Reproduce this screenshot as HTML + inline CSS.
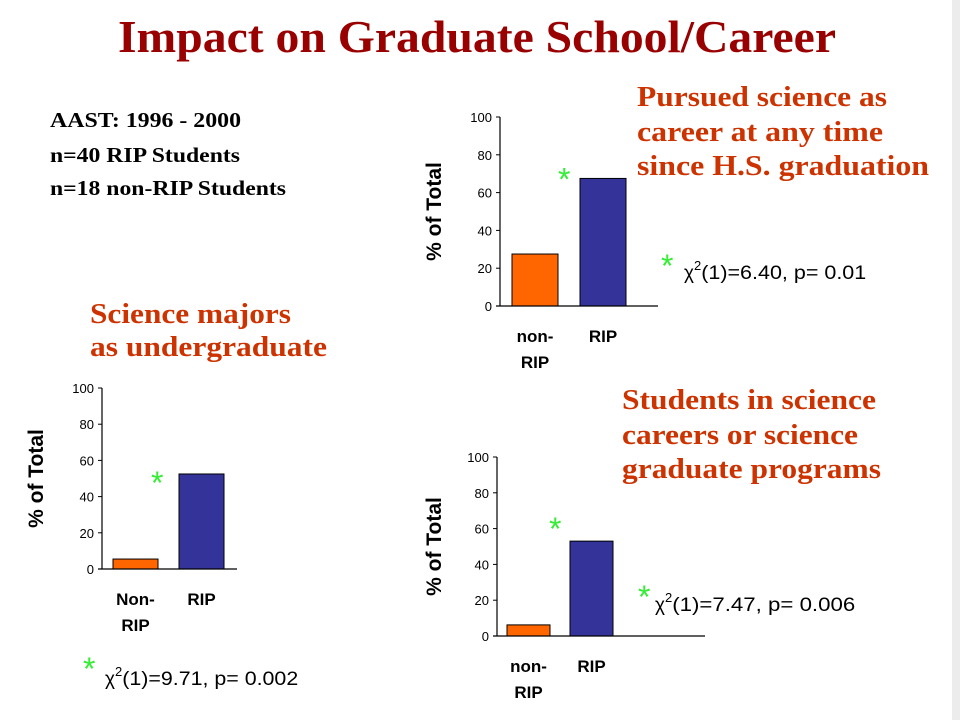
<!DOCTYPE html>
<html><head><meta charset="utf-8">
<style>
html,body{margin:0;padding:0;background:#fff;}
svg{display:block;}
.title{font-family:"Liberation Serif",serif;font-weight:bold;fill:#990000;}
.sub{font-family:"Liberation Serif",serif;font-weight:bold;fill:#cc3300;font-size:28px;}
.info{font-family:"Liberation Serif",serif;font-weight:bold;fill:#000;font-size:21px;}
.tick{font-family:"Liberation Sans",sans-serif;font-size:13px;fill:#000;}
.cat{font-family:"Liberation Sans",sans-serif;font-weight:bold;font-size:17px;fill:#000;}
.ytitle{font-family:"Liberation Sans",sans-serif;font-weight:bold;font-size:21px;fill:#000;}
.stat{font-family:"Liberation Sans",sans-serif;font-size:19px;fill:#000;}
.star{font-family:"Liberation Sans",sans-serif;font-size:32px;fill:#33ee33;}
</style></head>
<body>
<svg id="slide" width="960" height="720" viewBox="0 0 960 720" xmlns="http://www.w3.org/2000/svg">
<rect x="952" y="0" width="8" height="720" fill="#ececec"/>
<text class="title" x="118" y="52" font-size="46" textLength="718" lengthAdjust="spacingAndGlyphs">Impact on Graduate School/Career</text>

<g>
<text class="info" x="50" y="127" textLength="191" lengthAdjust="spacingAndGlyphs">AAST: 1996 - 2000</text>
<text class="info" x="50" y="162" textLength="190" lengthAdjust="spacingAndGlyphs">n=40 RIP Students</text>
<text class="info" x="50" y="195" textLength="236" lengthAdjust="spacingAndGlyphs">n=18 non-RIP Students</text>
</g>

<g>
<text class="sub" x="637" y="106" textLength="250" lengthAdjust="spacingAndGlyphs">Pursued science as</text>
<text class="sub" x="637" y="141" textLength="246" lengthAdjust="spacingAndGlyphs">career at any time</text>
<text class="sub" x="637" y="175" textLength="292" lengthAdjust="spacingAndGlyphs">since H.S. graduation</text>
</g>
<g>
<text class="sub" x="90" y="323" textLength="201" lengthAdjust="spacingAndGlyphs">Science majors</text>
<text class="sub" x="90" y="356" textLength="237" lengthAdjust="spacingAndGlyphs">as undergraduate</text>
</g>
<g>
<text class="sub" x="622" y="409" textLength="254" lengthAdjust="spacingAndGlyphs">Students in science</text>
<text class="sub" x="622" y="444" textLength="236" lengthAdjust="spacingAndGlyphs">careers or science</text>
<text class="sub" x="622" y="478" textLength="259" lengthAdjust="spacingAndGlyphs">graduate programs</text>
</g>

<g id="chartA"></g>
<g id="chartB"></g>
<g id="chartC"></g>

<g>
<text class="star" x="661" y="277">*</text>
<text class="stat" x="684" y="279">χ<tspan font-size="13" dy="-9">2</tspan><tspan dy="9" textLength="165" lengthAdjust="spacingAndGlyphs">(1)=6.40, p= 0.01</tspan></text>
</g>
<g>
<text class="star" x="83" y="680">*</text>
<text class="stat" x="105" y="685">χ<tspan font-size="13" dy="-9">2</tspan><tspan dy="9" textLength="176" lengthAdjust="spacingAndGlyphs">(1)=9.71, p= 0.002</tspan></text>
</g>
<g>
<text class="star" x="638" y="608">*</text>
<text class="stat" x="655" y="611">χ<tspan font-size="13" dy="-9">2</tspan><tspan dy="9" textLength="183" lengthAdjust="spacingAndGlyphs">(1)=7.47, p= 0.006</tspan></text>
</g>
</svg>
<script>
var categoriesA = [["non-", "RIP"], ["RIP"]];
var valuesA = [27.5, 67.5];
var categoriesB = [["Non-", "RIP"], ["RIP"]];
var valuesB = [5.5, 52.5];
var categoriesC = [["non-", "RIP"], ["RIP"]];
var valuesC = [6.2, 53];
var tickLabels = [0, 20, 40, 60, 80, 100];
var barColors = ["#ff6600", "#333399"];

var NS = "http://www.w3.org/2000/svg";
function mk(tag, attrs, parent) {
  var e = document.createElementNS(NS, tag);
  for (var k in attrs) e.setAttribute(k, attrs[k]);
  parent.appendChild(e);
  return e;
}
function drawChart(id, cats, vals, g) {
  var root = document.getElementById(id);
  function y(v) { return g.y0 - (v / 100) * (g.y0 - g.y100); }
  function x(i) { return g.bx0 + i * g.step; }
  var ytitle = mk("text", {class: "ytitle", x: 0, y: 0, "text-anchor": "middle",
    transform: "translate(" + g.tx + "," + ((g.y0 + g.y100) / 2) + ") rotate(-90)"}, root);
  ytitle.textContent = "% of Total";
  
  
  tickLabels.forEach(function (t) {
    var tl = mk("text", {class: "tick", x: g.ax - 8, y: y(t) + 5, "text-anchor": "end"}, root);
    tl.textContent = t;
    
    
    var tm = mk("line", {x1: g.ax - 4, x2: g.ax, y1: y(t), y2: y(t), stroke: "#000", "stroke-width": 1}, root);
    
    
  });
  vals.forEach(function (v, i) {
    var b = mk("rect", {x: x(i), y: y(v), width: g.bw, height: y(0) - y(v),
      fill: barColors[i], stroke: "#000", "stroke-width": 1}, root);
    
    
    cats[i].forEach(function (line, j) {
      var c = mk("text", {class: "cat", x: x(i) + g.bw / 2, y: g.y0 + 36 + j * 26, "text-anchor": "middle"}, root);
      c.textContent = line;
      
      
    });
  });
  var star = mk("text", {class: "star", x: x(1) + g.sdx, y: y(vals[1]) + g.sdy}, root);
  star.textContent = "*";
  
  
  var ya = mk("line", {x1: g.ax, x2: g.ax, y1: g.y100, y2: g.y0, stroke: "#000", "stroke-width": 1.2}, root);
  
  
  var xa = mk("line", {x1: g.ax - 4, x2: g.axEnd, y1: g.y0, y2: g.y0, stroke: "#000", "stroke-width": 1.2}, root);
  
  
}
drawChart("chartA", categoriesA, valuesA, {ax: 500, axEnd: 658, y0: 306, y100: 117, bx0: 512, step: 68, bw: 46, tx: 441, sdx: -22, sdy: 12});
drawChart("chartB", categoriesB, valuesB, {ax: 102, axEnd: 237, y0: 569, y100: 388, bx0: 113, step: 66, bw: 45, tx: 43, sdx: -28, sdy: 20});
drawChart("chartC", categoriesC, valuesC, {ax: 497, axEnd: 705, y0: 636, y100: 457, bx0: 507, step: 63, bw: 43, tx: 441, sdx: -21, sdy: -1});
</script>
</body></html>
